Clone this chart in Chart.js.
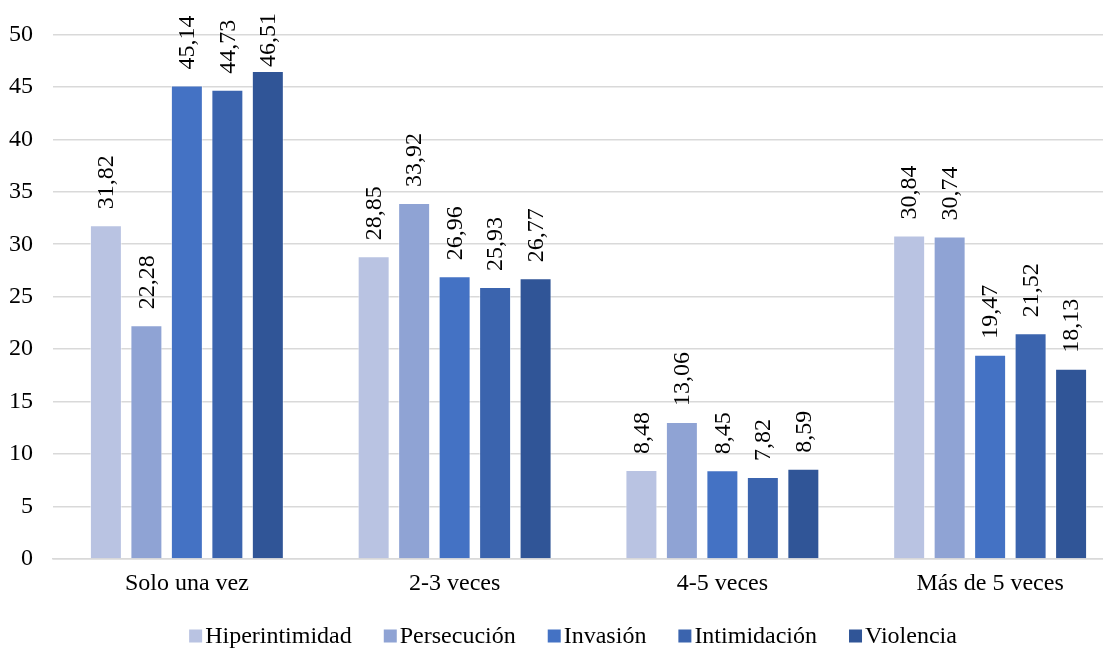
<!DOCTYPE html>
<html>
<head>
<meta charset="utf-8">
<script src="https://cdn.jsdelivr.net/npm/chart.js@4.4.1/dist/chart.umd.min.js"></script>
<style>
  html, body { margin: 0; padding: 0; background: #ffffff; overflow: hidden; }
  #wrap { width: 1142px; height: 648px; position: relative; }
</style>
</head>
<body>
<div id="wrap"><canvas id="c" width="1142" height="648"></canvas></div>
<script>
const categories = ["Solo una vez", "2-3 veces", "4-5 veces", "Más de 5 veces"];
const seriesNames = ["Hiperintimidad", "Persecución", "Invasión", "Intimidación", "Violencia"];
const hiperintimidad = [31.82, 28.85, 8.48, 30.84];
const persecucion = [22.28, 33.92, 13.06, 30.74];
const invasion = [45.14, 26.96, 8.45, 19.47];
const intimidacion = [44.73, 25.93, 7.82, 21.52];
const violencia = [46.51, 26.77, 8.59, 18.13];
const yTicks = [0, 5, 10, 15, 20, 25, 30, 35, 40, 45, 50];

const colors = ["#B9C3E2", "#8FA3D4", "#4472C4", "#3B64AE", "#305597"];
const seriesData = [hiperintimidad, persecucion, invasion, intimidacion, violencia];
const FONT = "'Liberation Serif', 'Times New Roman', serif";
const FSIZE = 24;

const labelPlugin = {
  id: 'rotLabels',
  afterDatasetsDraw(chart) {
    const ctx = chart.ctx;
    ctx.save();
    ctx.font = FSIZE + "px " + FONT;
    ctx.fillStyle = "#000000";
    ctx.textAlign = "left";
    ctx.textBaseline = "middle";
    chart.data.datasets.forEach((ds, i) => {
      const meta = chart.getDatasetMeta(i);
      meta.data.forEach((bar, j) => {
        const txt = ds.data[j].toFixed(2).replace('.', ',');
        const w = ctx.measureText(txt).width;
        const y0 = Math.max(bar.y - 16, 13 + w);
        ctx.save();
        ctx.translate(bar.x, y0);
        ctx.rotate(-Math.PI / 2);
        ctx.fillText(txt, 0, 1);
        ctx.restore();
      });
    });
    ctx.restore();
  }
};

const legendPlugin = {
  id: 'customLegend',
  afterDraw(chart) {
    const ctx = chart.ctx;
    ctx.save();
    ctx.font = FSIZE + "px " + FONT;
    ctx.textBaseline = "middle";
    ctx.textAlign = "left";
    const box = 13, gapText = 3, gapItem = 32;
    const items = chart.data.datasets.map(ds => ({
      label: ds.label, color: ds.backgroundColor,
      w: box + gapText + ctx.measureText(ds.label).width
    }));
    const total = items.reduce((a, it) => a + it.w, 0) + gapItem * (items.length - 1);
    let x = 573 - total / 2;
    const yc = 636;
    items.forEach(it => {
      ctx.fillStyle = it.color;
      ctx.fillRect(x, yc - box / 2, box, box);
      ctx.fillStyle = "#000000";
      ctx.fillText(it.label, x + box + gapText, yc + 1);
      x += it.w + gapItem;
    });
    ctx.restore();
  }
};

new Chart(document.getElementById('c'), {
  type: 'bar',
  data: {
    labels: categories,
    datasets: seriesNames.map((n, i) => ({
      label: n,
      data: seriesData[i],
      backgroundColor: colors[i],
      borderColor: "rgba(255,255,255,0.5)",
      borderWidth: 1,
      categoryPercentage: 0.756,
      barPercentage: 0.79
    }))
  },
  options: {
    responsive: false,
    animation: false,
    devicePixelRatio: 1,
    layout: { padding: { top: 32, right: 18, left: 0, bottom: 0 } },
    plugins: {
      legend: { display: false },
      tooltip: { enabled: false }
    },
    scales: {
      x: {
        grid: { display: false, drawTicks: false },
        border: { display: true, color: '#d9d9d9', width: 1.5 },
        ticks: { font: { family: FONT, size: FSIZE }, color: '#000000', padding: 10 },
        afterFit(s) { s.height = 89; }
      },
      y: {
        min: 0, max: 50,
        afterBuildTicks(s) { s.ticks = yTicks.map(v => ({ value: v })); },
        grid: { color: '#d9d9d9', lineWidth: 1.5, drawTicks: false },
        border: { display: false },
        ticks: { font: { family: FONT, size: FSIZE }, color: '#000000', padding: 20 },
        afterFit(s) { s.width = 53; }
      }
    }
  },
  plugins: [labelPlugin, legendPlugin]
});
</script>
</body>
</html>
